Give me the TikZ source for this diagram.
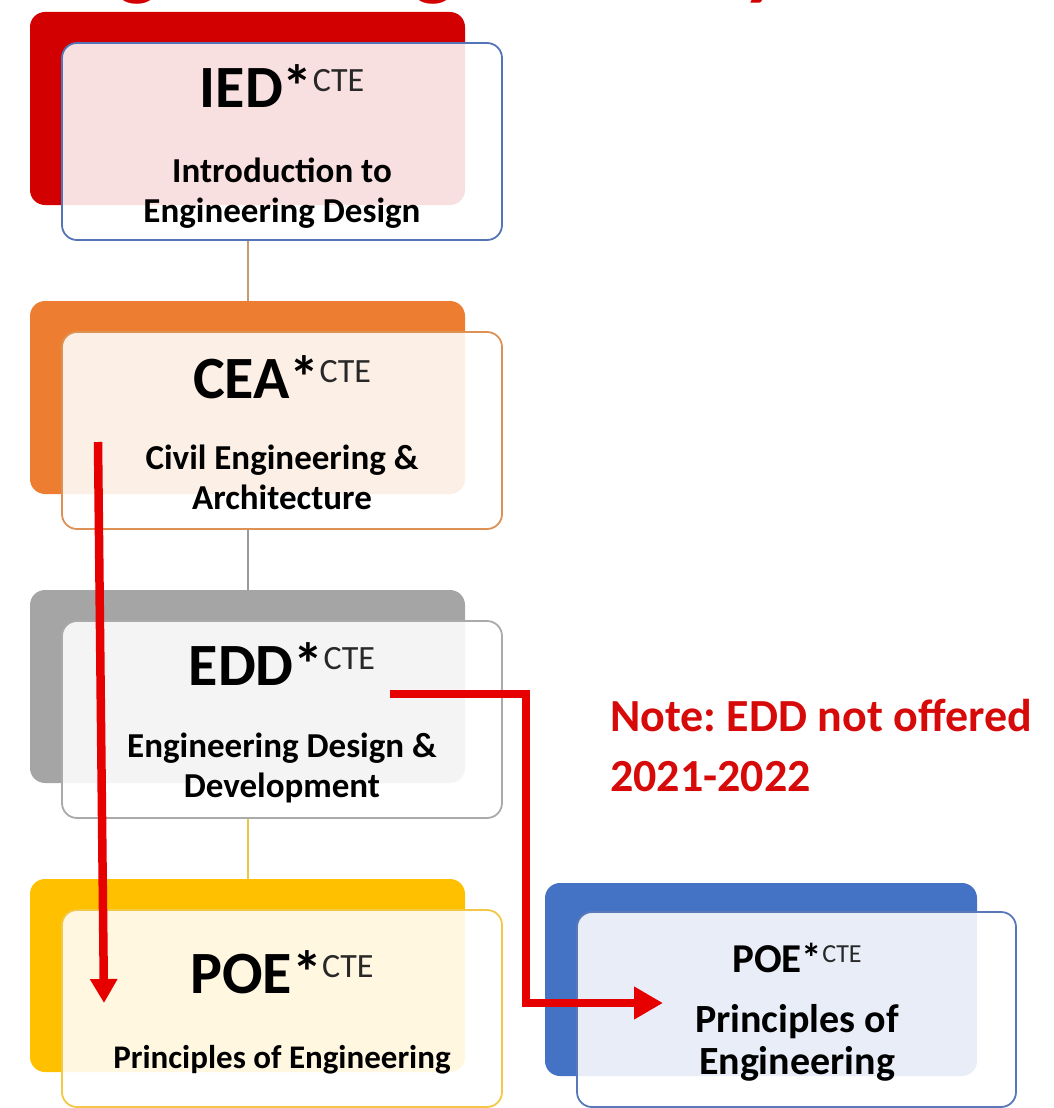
\documentclass[tikz,border=0pt]{standalone}
\usepackage{fontspec}
\setmainfont{Carlito}
\usetikzlibrary{arrows.meta}
\frenchspacing
\definecolor{cRed}{RGB}{210,0,0}
\definecolor{cOrange}{RGB}{237,125,49}
\definecolor{cGrey}{RGB}{165,165,165}
\definecolor{cYellow}{RGB}{255,192,0}
\definecolor{cBlue}{RGB}{68,114,196}
\definecolor{bIED}{RGB}{84,116,184}
\definecolor{bCEA}{RGB}{222,145,85}
\definecolor{bEDD}{RGB}{170,170,170}
\definecolor{bPOE}{RGB}{242,200,70}
\definecolor{bPOER}{RGB}{88,120,185}
\definecolor{lIED}{RGB}{200,155,115}
\definecolor{lCEA}{RGB}{155,155,155}
\definecolor{lEDD}{RGB}{232,200,70}
\definecolor{arrowred}{RGB}{230,0,0}
\definecolor{notered}{RGB}{215,10,10}
\definecolor{ctegrey}{RGB}{40,40,40}
\begin{document}
\begin{tikzpicture}[x=1pt,y=-1pt,
  backbox/.style={draw=none, rounded corners=15pt, inner sep=0pt, minimum width=435pt, minimum height=193pt},
  frontbox/.style={fill=white, fill opacity=0.88, line width=1.8pt, rounded corners=15pt, inner sep=0pt, minimum width=440pt, minimum height=197pt},
  ttl/.style={anchor=base, inner sep=0pt, font=\fontsize{60}{66}\selectfont\bfseries},
  subtxt/.style={anchor=base, inner sep=0pt, align=center, font=\fontsize{35}{40}\selectfont\bfseries},
  conn/.style={line width=2pt},
  redarrow/.style={draw=arrowred, line width=8.5pt}
]
\useasboundingbox (0,0) rectangle (1053,1108);
\clip (0,0) rectangle (1053,1108);

% cut-off title
\node[anchor=base west, inner sep=0pt, text=cRed, font=\fontsize{87}{90}\selectfont\bfseries] (pagetitle) at (28,-10) {Engineering Pathway};

% back boxes
\node[backbox, fill=cRed] (iedB) at (247.5,108.5) {};
\node[backbox, fill=cOrange] (ceaB) at (247.5,397.5) {};
\node[backbox, fill=cGrey] (eddB) at (247.5,686.5) {};
\node[backbox, fill=cYellow] (poeB) at (247.5,975.5) {};
\node[backbox, fill=cBlue, minimum width=432pt] (poeRB) at (761,979.5) {};

% front boxes
\node[frontbox, draw=bIED] (iedF) at (282,141.5) {};
\node[frontbox, draw=bCEA] (ceaF) at (282,430.5) {};
\node[frontbox, draw=bEDD] (eddF) at (282,719.5) {};
\node[frontbox, draw=bPOE] (poeF) at (282,1008.5) {};
\node[frontbox, draw=bPOER, minimum width=439pt, minimum height=195pt] (poeRF) at (796.5,1009.5) {};

% connectors
\draw[conn, draw=lIED] (iedB.center |- iedF.south) -- (ceaB.north);
\draw[conn, draw=lCEA] (ceaB.center |- ceaF.south) -- (eddB.north);
\draw[conn, draw=lEDD] (eddB.center |- eddF.south) -- (poeB.north);

% texts
\newcommand{\ctemark}[2]{\raisebox{#1}{\fontsize{#2}{#2}\selectfont\mdseries\color{ctegrey}CTE}}
\node[ttl] (iedT) at (282,107) {IED*\ctemark{16pt}{34}};
\node[subtxt] (iedS) at (282,222) {Introduction to\\Engineering Design};
\node[ttl] (ceaT) at (282,398) {CEA*\ctemark{16pt}{34}};
\node[subtxt] (ceaS) at (282,509) {Civil Engineering \&\\Architecture};
\node[ttl] (eddT) at (282,685) {EDD*\ctemark{16pt}{34}};
\node[subtxt] (eddS) at (282,797) {Engineering Design \&\\Development};
\node[ttl] (poeT) at (282,993) {POE*\ctemark{16pt}{34}};
\node[subtxt, font=\fontsize{33}{38}\selectfont\bfseries] (poeS) at (282,1068) {Principles of Engineering};
\node[ttl, font=\fontsize{41}{46}\selectfont\bfseries] (poeRT) at (797,972) {POE*\ctemark{10pt}{26}};
\node[subtxt, font=\fontsize{40}{42}\selectfont\bfseries] (poeRS) at (797,1074) {Principles of\\Engineering};

\node[anchor=base west, inner sep=0pt, align=left, text=notered, font=\fontsize{46}{60}\selectfont\bfseries] (note) at (610,791) {Note: EDD not offered\\2021-2022};

% red arrows
\coordinate (a1s) at (98,442);
\coordinate (a1e) at (104,1003);
\draw[redarrow, -{Triangle[length=24pt,width=26pt]}] (a1s) -- (a1e);
\coordinate (a2s) at (390,694);
\coordinate (a2e) at (663,1003);
\draw[redarrow, -{Triangle[length=29pt,width=31pt]}] (a2s) -| (526,1003) -- (a2e);
\end{tikzpicture}
\end{document}
